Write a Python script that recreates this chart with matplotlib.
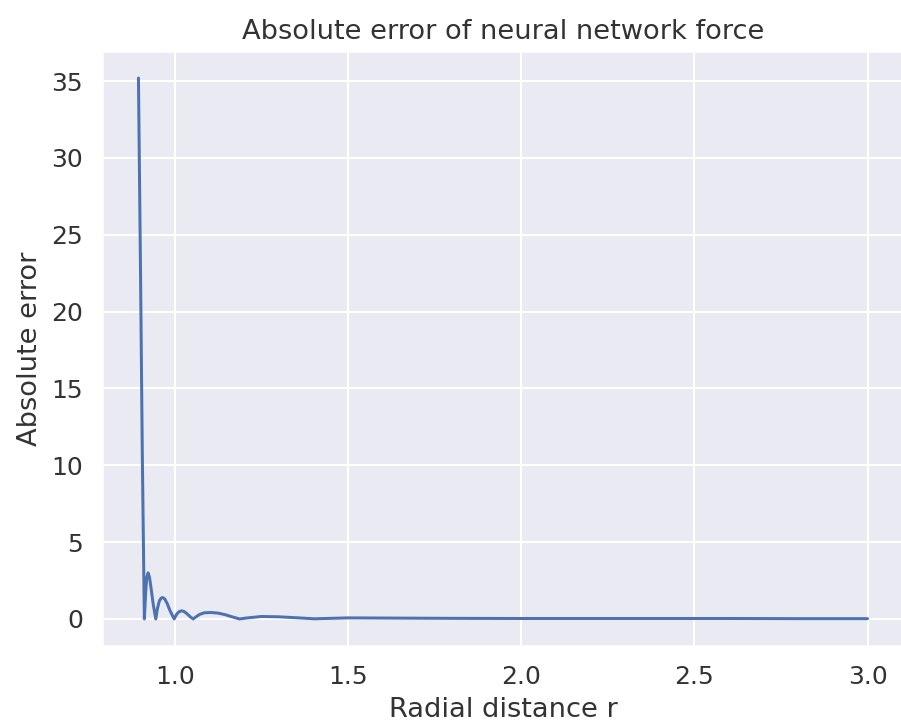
import matplotlib
matplotlib.use("Agg")
import matplotlib.pyplot as plt
import seaborn as sns

# values
r = [0.895, 0.901, 0.906, 0.912, 0.916, 0.919, 0.923, 0.927, 0.932, 0.938,
     0.945, 0.950, 0.955, 0.960, 0.965, 0.971, 0.978, 0.986, 0.998, 1.005,
     1.012, 1.019, 1.027, 1.036, 1.045, 1.053, 1.062, 1.072, 1.085, 1.104,
     1.125, 1.145, 1.165, 1.187, 1.21, 1.25, 1.30, 1.35, 1.403, 1.45,
     1.50, 1.60, 1.70, 1.80, 2.0, 2.2, 2.4, 2.6, 2.8, 3.0]
abs_err = [35.2, 22.5, 11.0, 0.0, 1.8, 2.7, 3.0, 2.7, 1.9, 0.9,
           0.0, 0.7, 1.15, 1.35, 1.39, 1.3, 1.0, 0.55, 0.0, 0.3,
           0.47, 0.53, 0.48, 0.32, 0.13, 0.0, 0.15, 0.3, 0.40, 0.42,
           0.38, 0.28, 0.14, 0.0, 0.07, 0.16, 0.14, 0.08, 0.01, 0.04,
           0.07, 0.06, 0.05, 0.04, 0.03, 0.03, 0.03, 0.03, 0.02, 0.02]

sns.set_theme()
plt.rcParams.update({
    "axes.titlesize": 13.6,
    "axes.labelsize": 13.6,
    "xtick.labelsize": 12.5,
    "ytick.labelsize": 12.5,
    "text.color": "#333333",
    "axes.labelcolor": "#333333",
    "xtick.color": "#333333",
    "ytick.color": "#333333",
})

fig = plt.figure(figsize=(901 / 144, 727 / 144), dpi=144)
ax = fig.add_axes([102 / 901, 1 - 646 / 727, 802 / 901, 595 / 727])

ax.plot(r, abs_err)

ax.set_title("Absolute error of neural network force")
ax.set_xlabel("Radial distance r")
ax.set_ylabel("Absolute error")

fig.savefig("out.png", dpi=144)
